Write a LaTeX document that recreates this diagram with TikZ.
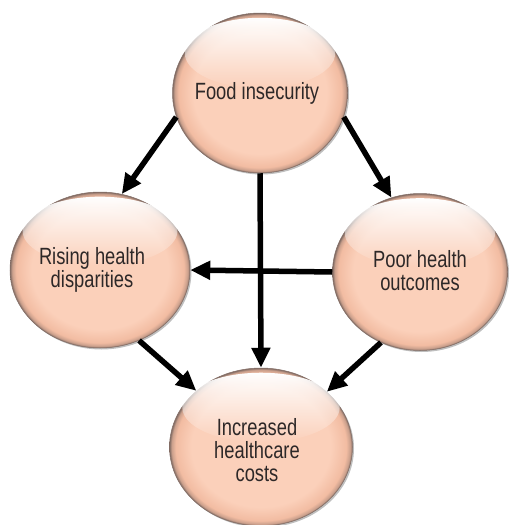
\documentclass[tikz,border=0pt]{standalone}
\usepackage{fontspec}
\setmainfont[FakeStretch=0.78]{Liberation Sans}
\usetikzlibrary{shapes.geometric,arrows.meta,fadings,shadows}
\definecolor{pcA}{RGB}{251,208,186}
\definecolor{pcB}{RGB}{242,188,162}
\definecolor{rimc}{RGB}{130,108,100}
\definecolor{txt}{RGB}{45,40,40}
\pgfdeclareradialshading{ball}{\pgfpoint{0bp}{0bp}}{color(0bp)=(pcA); color(19bp)=(pcA); color(23.3bp)=(pcB); color(24.4bp)=(pcB!65!rimc); color(25bp)=(rimc); color(50bp)=(rimc)}
\tikzfading[name=sheen, top color=transparent!0, bottom color=transparent!100]
\tikzset{
  ballnode/.style={ellipse, inner sep=0pt, shading=ball, draw=rimc, line width=0.5pt,
    drop shadow={shadow xshift=1.5pt, shadow yshift=-1.5pt, opacity=0.25, fill=black}},
  balltext/.style={align=center, text=txt, inner sep=0pt, font=\fontsize{23.5}{23}\selectfont},
  arr/.style={line width=5.5pt, -{Triangle[length=20pt,width=18pt]}},
}
\newcommand\mysheen[3]{%
  \fill[white, path fading=sheen] ([yshift=#3*0.5pt]#1.center) ellipse [x radius=#2*0.86pt, y radius=#3*0.44pt];}
\begin{document}
\begin{tikzpicture}[x=1pt,y=-1pt]
\useasboundingbox (0,0) rectangle (509,525);
\node[ballnode, minimum width=175pt, minimum height=160pt] (top) at (260,93) {};
\mysheen{top}{87.5}{80}
\node[balltext] (topt) at ([xshift=-3pt]top.center) {Food insecurity};
\node[ballnode, minimum width=180pt, minimum height=156pt] (left) at (100,270) {};
\mysheen{left}{90}{78}
\node[balltext] (leftt) at ([xshift=-8pt]left.center) {Rising health\\disparities};
\node[ballnode, minimum width=175pt, minimum height=157pt] (right) at (420,272) {};
\mysheen{right}{87.5}{78.5}
\node[balltext] (rightt) at ([yshift=1pt]right.center) {Poor health\\outcomes};
\node[ballnode, minimum width=183pt, minimum height=158pt] (bot) at (261,447) {};
\mysheen{bot}{91.5}{79}
\node[balltext] (bott) at ([xshift=-4pt,yshift=-3pt]bot.center) {Increased\\healthcare\\costs};
\draw[arr] (top.196) -- (left.74);
\draw[arr] (top.-16) -- (right.111);
\draw[arr] (top.south) -- (bot.north);
\draw[arr] (right.west) -- (left.east);
\draw[arr] (left.-61) -- (bot.139);
\draw[arr] (right.241) -- (bot.40);
\end{tikzpicture}
\end{document}
